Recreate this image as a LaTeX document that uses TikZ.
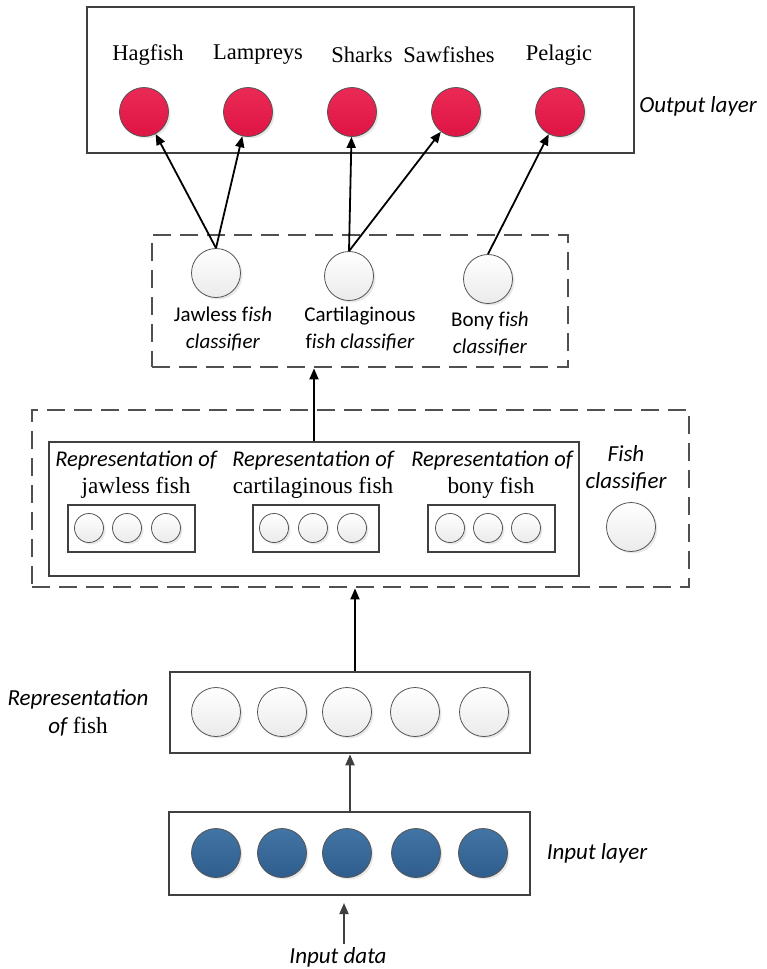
\documentclass[tikz,border=0pt]{standalone}
\usepackage{fontspec}
\setmainfont{Liberation Serif}
\newfontfamily\calfont{Carlito}
\usetikzlibrary{arrows.meta,shadows}
\definecolor{boxgray}{HTML}{404040}
\definecolor{dashgray}{HTML}{505050}
\definecolor{circgray}{HTML}{555555}
\definecolor{redtop}{HTML}{EA2A55}
\definecolor{redbot}{HTML}{DF1444}
\definecolor{bluetop}{HTML}{4274A5}
\definecolor{bluebot}{HTML}{2F5E8D}
\begin{document}
\begin{tikzpicture}[x=1pt,y=-1pt,
  solidbox/.style={draw=boxgray, line width=2.6pt, inner sep=0pt},
  dashbox/.style={draw=dashgray, line width=2.8pt, dash pattern=on 18pt off 9pt, inner sep=0pt},
  wcirc/.style={circle, draw=circgray, line width=0.8pt, top color=white, bottom color=black!8,
    minimum size=49pt, inner sep=0pt,
    drop shadow={opacity=0.18, shadow xshift=2pt, shadow yshift=-2pt}},
  redc/.style={wcirc, top color=redtop, bottom color=redbot},
  bluec/.style={wcirc, top color=bluetop, bottom color=bluebot},
  smallc/.style={wcirc, minimum size=29pt},
  serif/.style={font=\fontsize{22.5}{27}\selectfont, inner sep=0pt},
  serifb/.style={font=\fontsize{23.2}{27}\selectfont, inner sep=0pt},
  ital/.style={font=\calfont\itshape\fontsize{23}{27}\selectfont, inner sep=0pt, align=center},
  repital/.style={font=\calfont\itshape\fontsize{22.5}{27}\selectfont, inner sep=0pt},
  sanslab/.style={font=\calfont\fontsize{21}{27}\selectfont, inner sep=0pt, align=center},
  arr/.style={-{Triangle[length=11pt,width=9pt]}, line width=1.8pt, draw=black},
  grayarr/.style={-{Triangle[length=11pt,width=9pt]}, line width=1.8pt, draw=boxgray}
]
\useasboundingbox (0,0) rectangle (766,969);

% ---------- Output layer ----------
\node[solidbox, minimum width=547pt, minimum height=146pt] (outbox) at (360.5,80) {};
\node[serif] (lhag) at (148,55) {Hagfish};
\node[serif] (llam) at (258,55) {Lampreys};
\node[serif] (lsha) at (362,55) {Sharks};
\node[serif] (lsaw) at (449,55) {Sawfishes};
\node[serif] (lpel) at (559,55) {Pelagic};
\node[redc] (hag) at (144,112) {};
\node[redc] (lam) at (248,112) {};
\node[redc] (sha) at (352,112) {};
\node[redc] (saw) at (456,112) {};
\node[redc] (pel) at (560,112) {};
\node[ital] (outlab) at (698,106) {Output layer};

% ---------- Classifier layer ----------
\node[dashbox, minimum width=416pt, minimum height=132pt] (clsbox) at (360,301) {};
\node[wcirc] (jaw) at (216,273) {};
\node[wcirc] (car) at (349,276) {};
\node[wcirc] (bon) at (488,279) {};
\node[sanslab] (ljaw) at (223,328.5) {Jawless f\textit{ish}\\\textit{classifier}};
\node[sanslab] (lcar) at (360,328.5) {Cartilaginous\\f\textit{ish classifier}};
\node[sanslab] (lbon) at (490,333.5) {Bony f\textit{ish}\\\textit{classifier}};

\draw[arr] (jaw.north) -- (hag);
\draw[arr] (jaw.north) -- (lam);
\draw[arr] (car.north) -- (sha);
\draw[arr] (car.north) -- (saw);
\draw[arr] (bon.north) -- (pel);

% ---------- Fish classifier block ----------
\node[dashbox, minimum width=657pt, minimum height=177pt] (fishbox) at (360.5,498.5) {};
\node[solidbox, minimum width=530pt, minimum height=134pt] (repbox) at (314,509) {};
\node[repital] (r1) at (136,461) {Representation of};
\node[repital] (r2) at (313,461) {Representation of};
\node[repital] (r3) at (492,461) {Representation of};
\node[serifb] (s1) at (136,488) {jawless fish};
\node[serifb] (s2) at (313,488) {cartilaginous fish};
\node[serifb] (s3) at (491,488) {bony fish};
\node[solidbox, minimum width=127pt, minimum height=47pt] (sb1) at (131.5,528.5) {};
\node[solidbox, minimum width=126pt, minimum height=47pt] (sb2) at (316,528.5) {};
\node[solidbox, minimum width=127pt, minimum height=47pt] (sb3) at (491.5,528.5) {};
\node[smallc] (a1) at (89,528) {};
\node[smallc] (a2) at (127,528) {};
\node[smallc] (a3) at (166,528) {};
\node[smallc] (b1) at (274,528) {};
\node[smallc] (b2) at (313,528) {};
\node[smallc] (b3) at (352,528) {};
\node[smallc] (c1) at (450,528) {};
\node[smallc] (c2) at (488,528) {};
\node[smallc] (c3) at (526,528) {};
\node[ital] (fclab) at (626,468.5) {Fish\\classifier};
\node[wcirc] (fc) at (631,527) {};

\draw[arr] (repbox.north) -- (repbox.north |- clsbox.south);

% ---------- Representation of fish ----------
\node[solidbox, minimum width=360pt, minimum height=81pt] (fishrep) at (350,712.5) {};
\node[wcirc] (f1) at (216,712) {};
\node[wcirc] (f2) at (282,712) {};
\node[wcirc] (f3) at (347,712) {};
\node[wcirc] (f4) at (415,712) {};
\node[wcirc] (f5) at (484,712) {};
\node[font=\fontsize{23.2}{28}\selectfont, inner sep=0pt, align=center] (replab) at (78,713)
  {{\calfont\itshape\fontsize{23}{28}\selectfont Representation}\\{\calfont\itshape\fontsize{23}{28}\selectfont of} fish};
\coordinate (fa) at (355,0);
\draw[arr] (fishrep.north -| fa) -- (fishbox.south -| fa);

% ---------- Input layer ----------
\node[solidbox, minimum width=361pt, minimum height=83pt] (inbox) at (349.5,853.5) {};
\node[bluec] (i1) at (216,853) {};
\node[bluec] (i2) at (282,853) {};
\node[bluec] (i3) at (347,853) {};
\node[bluec] (i4) at (416,853) {};
\node[bluec] (i5) at (483,853) {};
\node[ital] (inlab) at (597,853) {Input layer};
\coordinate (ga) at (350,0);
\draw[grayarr] (inbox.north -| ga) -- (fishrep.south -| ga);

\node[ital] (indata) at (338,957) {Input data};
\coordinate (intip) at (344,903);
\draw[grayarr] (intip |- indata.north) ++(0,-3) -- (intip);
\end{tikzpicture}
\end{document}
